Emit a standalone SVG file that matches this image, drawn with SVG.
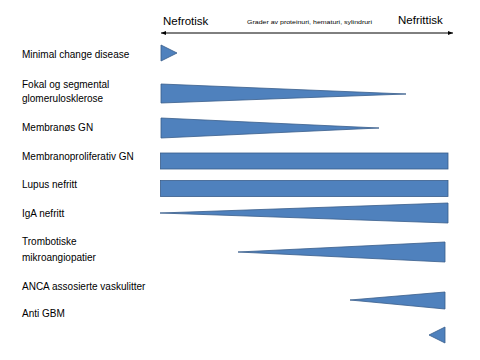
<svg xmlns="http://www.w3.org/2000/svg" width="480" height="360" viewBox="0 0 480 360">
<style>
.lbl{font-family:"Liberation Sans",Arial,sans-serif;font-size:10px;fill:#000}
.hd{font-family:"Liberation Sans",Arial,sans-serif;font-size:11.5px;fill:#000}
.sm{font-family:"Liberation Sans",Arial,sans-serif;font-size:5px;fill:#000}
.shp{fill:#4F81BD;stroke:#385D8A;stroke-width:0.8}
</style>
<defs>
<marker id="ah" markerWidth="6" markerHeight="6" refX="5" refY="3" orient="auto-start-reverse" markerUnits="userSpaceOnUse">
<path d="M0,1 L5,3 L0,5 Z" fill="#000"/>
</marker>
</defs>
<rect width="480" height="360" fill="#fff"/>
<g id="axis">
<text class="hd" x="163" y="25">Nefrotisk</text>
<text class="sm" x="247" y="24" textLength="125" lengthAdjust="spacingAndGlyphs">Grader av proteinuri, hematuri, sylindruri</text>
<text class="hd" x="398" y="24">Nefrittisk</text>
</g>
<g id="connectors">
<line x1="161" y1="33" x2="453" y2="33" stroke="#000" stroke-width="1" marker-start="url(#ah)" marker-end="url(#ah)"/>
</g>
<g id="minimal">
<text class="lbl" x="22" y="58">Minimal change disease</text>
<polygon class="shp" points="161,45 177,53 161,61"/>
</g>
<g id="fokal">
<text class="lbl" x="22" y="88">Fokal og segmental</text>
<text class="lbl" x="22" y="102">glomerulosklerose</text>
<polygon class="shp" points="161,84 406,94 161,103"/>
</g>
<g id="membranos">
<text class="lbl" x="22" y="131">Membranøs GN</text>
<polygon class="shp" points="161,118 379,128 161,138"/>
</g>
<g id="membranoproliferativ">
<text class="lbl" x="22" y="160">Membranoproliferativ GN</text>
<rect class="shp" x="160.5" y="153" width="287.5" height="16"/>
</g>
<g id="lupus">
<text class="lbl" x="22" y="188">Lupus nefritt</text>
<rect class="shp" x="160.5" y="180.5" width="287.5" height="16"/>
</g>
<g id="iga">
<text class="lbl" x="22" y="217">IgA nefritt</text>
<polygon class="shp" points="160,213 448,203 448,223"/>
</g>
<g id="trombotiske">
<text class="lbl" x="22" y="245">Trombotiske</text>
<text class="lbl" x="22" y="261">mikroangiopatier</text>
<polygon class="shp" points="238,252 445,242 445,262"/>
</g>
<g id="anca">
<text class="lbl" x="22" y="290">ANCA assosierte vaskulitter</text>
<polygon class="shp" points="350,300 445,292 445,309"/>
</g>
<g id="antigbm">
<text class="lbl" x="22" y="317">Anti GBM</text>
<polygon class="shp" points="429,335 445,327 445,343"/>
</g>
</svg>
